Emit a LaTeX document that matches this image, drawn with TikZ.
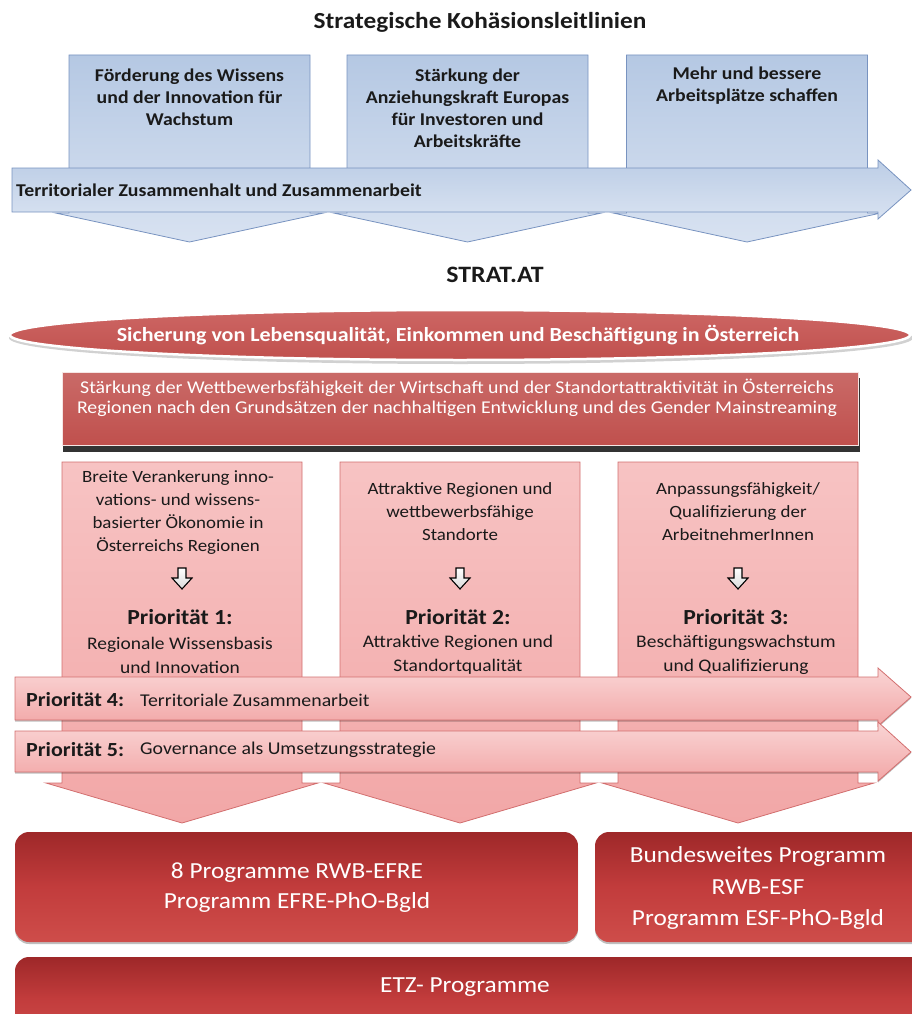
\documentclass[tikz,border=0pt]{standalone}
\usepackage{fontspec}
\setmainfont{Carlito}[FakeStretch=1.1]
\usetikzlibrary{shadows}
\definecolor{blueTop}{HTML}{B5C8E3}
\definecolor{blueBot}{HTML}{D8E2F1}
\definecolor{blueLine}{HTML}{7893C0}
\definecolor{redMain}{HTML}{C0504D}
\definecolor{redLight}{HTML}{CD6664}
\definecolor{pinkTop}{HTML}{F7C3C3}
\definecolor{pinkBot}{HTML}{F2A7A7}
\definecolor{pinkLine}{HTML}{D26E6E}
\definecolor{darkTop}{HTML}{9E2829}
\definecolor{darkMid}{HTML}{C23C3C}
\definecolor{darkBot}{HTML}{CE4D4A}
\definecolor{txt}{HTML}{1A1A1A}
\tikzset{
  bluecol/.style={top color=blueTop,bottom color=blueBot,draw=blueLine,line width=0.8pt},
  bluearrow/.style={top color=blueTop!90!white,bottom color=blueBot,draw=blueLine,line width=0.8pt},
  pinkcol/.style={top color=pinkTop,bottom color=pinkBot,draw=pinkLine,line width=0.8pt},
  pinkarrow/.style={top color=pinkTop!70!white,bottom color=pinkBot,draw=pinkLine,line width=0.8pt,
     drop shadow={shadow xshift=0pt,shadow yshift=-1.5pt,opacity=0.25,fill=black}},
  darkbox/.style={top color=darkTop,bottom color=darkBot,middle color=darkMid,draw=none,rounded corners=14pt,
     drop shadow={shadow xshift=0pt,shadow yshift=-2pt,opacity=0.25,fill=black}},
  smallarrow/.style={top color=white,bottom color=black!15,draw=black,line width=1.1pt,line join=miter},
  bluetext/.style={font={\fontsize{18}{22}\selectfont\bfseries},text=txt,align=center,inner sep=0pt},
  pinktext/.style={font={\fontsize{17.2}{23.3}\selectfont},text=txt,align=center,inner sep=0pt},
  priotitle/.style={font={\fontsize{21.5}{24}\selectfont\bfseries},text=txt,inner sep=0pt},
  priosub/.style={font={\fontsize{17.7}{24}\selectfont},text=txt,align=center,inner sep=0pt},
  whitetext/.style={text=white,align=center,inner sep=0pt},
  prlabel/.style={font={\fontsize{20}{22}\selectfont\bfseries},text=txt,anchor=west,inner sep=0pt},
  prdesc/.style={font={\fontsize{18}{20}\selectfont},text=txt,anchor=west,inner sep=0pt},
}
\begin{document}
\begin{tikzpicture}[x=1pt,y=-1pt]
\useasboundingbox (0,0) rectangle (912,1014);
\clip (0,0) rectangle (912,1014);

% ---------- top title
\node[font={\fontsize{23}{26}\selectfont\bfseries},text=txt,inner sep=0pt] (title) at (480,22) {Strategische Kohäsionsleitlinien};

% ---------- blue columns with chevrons
\foreach \cx in {189.5,467.5,747}{
  \path[bluecol] (\cx-120.5,55) -- (\cx+120.5,55) -- (\cx+120.5,213) -- (\cx+134,213)
     -- (\cx,242) -- (\cx-134,213) -- (\cx-120.5,213) -- cycle;
}
\node[bluetext] (bt1) at (189.5,97) {Förderung des Wissens\\und der Innovation für\\Wachstum};
\node[bluetext] (bt2) at (467.5,108.5) {Stärkung der\\Anziehungskraft Europas\\für Investoren und\\Arbeitskräfte};
\node[bluetext] (bt3) at (747,86) {Mehr und bessere\\Arbeitsplätze schaffen};

% ---------- blue horizontal arrow
\path[bluearrow] (12,168) -- (878,168) -- (878,160) -- (911,190) -- (878,219) -- (878,212) -- (12,212) -- cycle;
\node[font={\fontsize{18}{20}\selectfont\bfseries},text=txt,anchor=west,inner sep=0pt] (terr) at (16,190) {Territorialer Zusammenhalt und Zusammenarbeit};

% ---------- STRAT.AT
\node[font={\fontsize{23.5}{26}\selectfont\bfseries},text=txt,inner sep=0pt] (strat) at (495,275) {STRAT.AT};

% ---------- ellipse
\fill[black,opacity=0.18] (461,338) ellipse [x radius=452, y radius=26];
\path[top color=redLight,bottom color=redMain,draw=white,line width=2.5pt] (460,335) ellipse [x radius=450, y radius=25];
\node[whitetext,font={\fontsize{20}{22}\selectfont\bfseries}] (sich) at (458,335) {Sicherung von Lebensqualität, Einkommen und Beschäftigung in Österreich};

% ---------- red rectangle
\fill[black!80] (63,378) rectangle (860,452);
\path[top color=redMain!85!white,bottom color=redMain,draw=white!85!redMain,line width=1pt] (62,372) rectangle (858,445);
\node[whitetext,font={\fontsize{18}{20.5}\selectfont}] (staerk) at (457,398) {Stärkung der Wettbewerbsfähigkeit der Wirtschaft und der Standortattraktivität in Österreichs\\Regionen nach den Grundsätzen der nachhaltigen Entwicklung und des Gender Mainstreaming};

% ---------- pink columns with chevrons
\foreach \cx in {182,460,738}{
  \path[pinkcol] (\cx-120,462) -- (\cx+120,462) -- (\cx+120,783) -- (\cx+136,783)
     -- (\cx,823) -- (\cx-136,783) -- (\cx-120,783) -- cycle;
  \path[smallarrow] (\cx-4,568) -- (\cx+4,568) -- (\cx+4,578) -- (\cx+10,578) -- (\cx,589)
     -- (\cx-10,578) -- (\cx-4,578) -- cycle;
}
\node[pinktext] (pt1) at (178,512.5) {Breite Verankerung inno-\\vations- und wissens-\\basierter Ökonomie in\\Österreichs Regionen};
\node[pinktext] (pt2) at (460,511.5) {Attraktive Regionen und\\wettbewerbsfähige\\Standorte};
\node[pinktext] (pt3) at (738,511.5) {Anpassungsfähigkeit/\\Qualifizierung der\\ArbeitnehmerInnen};

\node[priotitle] (p1) at (180,617) {Priorität 1:};
\node[priotitle] (p2) at (458,617) {Priorität 2:};
\node[priotitle] (p3) at (736,617) {Priorität 3:};
\node[priosub] (ps1) at (180,655) {Regionale Wissensbasis\\und Innovation};
\node[priosub] (ps2) at (458,655) {Attraktive Regionen und\\Standortqualität};
\node[priosub] (ps3) at (736,655) {Beschäftigungswachstum\\und Qualifizierung};

% ---------- pink horizontal arrows
\path[pinkarrow] (15,677) -- (878,677) -- (878,668) -- (911,697) -- (878,726) -- (878,720) -- (15,720) -- cycle;
\node[prlabel] (p4) at (26,700) {Priorität 4:};
\node[prdesc] (p4t) at (140,700) {Territoriale Zusammenarbeit};

\path[pinkarrow] (15,731) -- (878,731) -- (878,722) -- (911,752) -- (878,781) -- (878,772) -- (15,772) -- cycle;
\node[prlabel] (p5) at (26,750) {Priorität 5:};
\node[prdesc] (p5t) at (140,750) {Governance als Umsetzungsstrategie};

% ---------- bottom programme boxes
\path[darkbox] (15,832) rectangle (578,942);
\node[whitetext,font={\fontsize{23}{30}\selectfont}] (efre) at (297,888) {8 Programme RWB-EFRE\\Programm EFRE-PhO-Bgld};
\path[darkbox] (595,832) rectangle (930,942);
\node[whitetext,font={\fontsize{23}{31.5}\selectfont}] (esf) at (758,888) {Bundesweites Programm\\RWB-ESF\\Programm ESF-PhO-Bgld};
\path[darkbox] (15,957) rectangle (930,1040);
\node[whitetext,font={\fontsize{23}{26}\selectfont}] (etz) at (465,987) {ETZ- Programme};
\end{tikzpicture}
\end{document}
